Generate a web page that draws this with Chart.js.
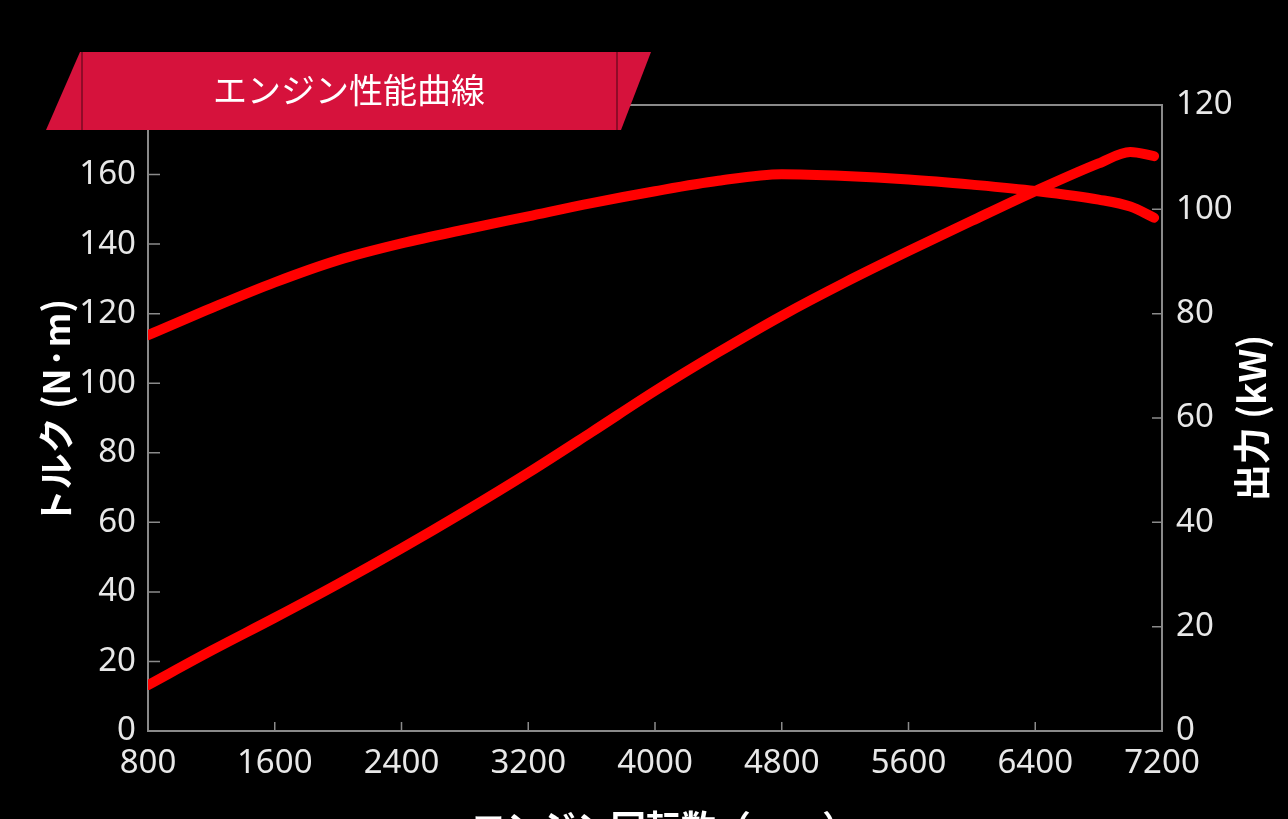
<!DOCTYPE html>
<html>
<head>
<meta charset="utf-8">
<script src="https://cdn.jsdelivr.net/npm/chart.js@4/dist/chart.umd.min.js"></script>
<style>
  html, body { margin: 0; padding: 0; background: #000; }
  #wrap { width: 1288px; height: 819px; position: relative; }
</style>
</head>
<body>
<div id="wrap"><canvas id="c" width="1288" height="819"></canvas></div>
<script>
// ---- data ----
const rpm = [800, 1200, 1600, 2000, 2400, 2800, 3200, 3600, 4000, 4400, 4800, 5200, 5600, 6000, 6400, 6800, 7000, 7150];
const torqueNm = [113.8, 121.6, 129.0, 135.4, 140.2, 144.2, 148.0, 151.8, 155.2, 158.2, 160.1, 159.6, 158.6, 157.1, 155.3, 152.8, 150.8, 147.6];
const powerKW = [8.8, 15.4, 21.7, 28.2, 35.0, 42.1, 49.5, 57.3, 65.2, 72.6, 79.6, 86.0, 92.0, 97.8, 103.5, 108.8, 111.0, 110.2];
const xTicks = [800, 1600, 2400, 3200, 4000, 4800, 5600, 6400, 7200];
const torqueTicks = [0, 20, 40, 60, 80, 100, 120, 140, 160, 180];
const powerTicks = [0, 20, 40, 60, 80, 100, 120];

const chartTitle = 'エンジン性能曲線';
const xTitle = 'エンジン回転数（rpm）';
const yLeftTitle = 'トルク (N·m)';
const yRightTitle = '出力 (kW)';

const RED = '#ff0000';
const AXIS = '#8a8a8a';
const TXT = '#e8e8e8';
const TICK_FONT = { family: "'Noto Sans', 'DejaVu Sans', sans-serif", size: 33 };
const CJK = "'Noto Sans CJK JP', 'Noto Sans', sans-serif";
const plain = v => String(v);

const torqueData = rpm.map((r, i) => ({ x: r, y: torqueNm[i] }));
const powerData = rpm.map((r, i) => ({ x: r, y: powerKW[i] }));

const decor = {
  id: 'decor',
  afterDraw(chart) {
    const ctx = chart.ctx;
    const a = chart.chartArea;
    const sx = chart.scales.x, yl = chart.scales.yL, yr = chart.scales.yR;
    ctx.save();
    // top border
    ctx.strokeStyle = AXIS;
    ctx.lineWidth = 2;
    ctx.beginPath();
    ctx.moveTo(a.left, a.top); ctx.lineTo(a.right, a.top);
    ctx.stroke();
    // tick marks (inside)
    ctx.lineWidth = 1.5;
    ctx.beginPath();
    xTicks.forEach(v => { const p = sx.getPixelForValue(v); ctx.moveTo(p, a.bottom); ctx.lineTo(p, a.bottom - 9); });
    torqueTicks.forEach(v => { const p = yl.getPixelForValue(v); ctx.moveTo(a.left, p); ctx.lineTo(a.left + 12, p); });
    powerTicks.forEach(v => { const p = yr.getPixelForValue(v); ctx.moveTo(a.right, p); ctx.lineTo(a.right - 10, p); });
    ctx.stroke();

    // axis titles
    ctx.fillStyle = '#ffffff';
    ctx.textAlign = 'center';
    ctx.textBaseline = 'middle';
    const cy = (a.top + a.bottom) / 2;
    ctx.font = 'bold 36px ' + CJK;
    ctx.save(); ctx.translate(56, cy - 6); ctx.rotate(-Math.PI / 2); ctx.fillText(yLeftTitle, 0, 0); ctx.restore();
    ctx.font = 'bold 37px ' + CJK;
    ctx.save(); ctx.translate(1252, cy); ctx.rotate(-Math.PI / 2); ctx.fillText(yRightTitle, 0, 0); ctx.restore();
    ctx.font = 'bold 35px ' + CJK;
    ctx.fillText(xTitle, 664, 828);

    // banner
    ctx.fillStyle = '#d6123c';
    ctx.beginPath();
    ctx.moveTo(80, 52); ctx.lineTo(651, 52); ctx.lineTo(621, 130); ctx.lineTo(46, 130);
    ctx.closePath(); ctx.fill();
    ctx.strokeStyle = '#7a0a22';
    ctx.lineWidth = 1.5;
    ctx.beginPath();
    ctx.moveTo(82, 52); ctx.lineTo(82, 130);
    ctx.moveTo(617, 52); ctx.lineTo(617, 130);
    ctx.stroke();
    ctx.fillStyle = '#ffffff';
    ctx.font = '34px ' + CJK;
    ctx.fillText(chartTitle, 349, 90);
    ctx.restore();
  }
};

new Chart(document.getElementById('c'), {
  type: 'line',
  data: {
    datasets: [
      { label: 'トルク', data: torqueData, yAxisID: 'yL', borderColor: RED, borderWidth: 10, pointRadius: 0, cubicInterpolationMode: 'monotone', borderCapStyle: 'round', borderJoinStyle: 'round' },
      { label: '出力', data: powerData, yAxisID: 'yR', borderColor: RED, borderWidth: 10, pointRadius: 0, cubicInterpolationMode: 'monotone', borderCapStyle: 'round', borderJoinStyle: 'round' }
    ]
  },
  options: {
    responsive: false,
    animation: false,
    layout: { padding: { top: 105, left: 0, right: 0, bottom: 0 } },
    plugins: { legend: { display: false }, tooltip: { enabled: false } },
    scales: {
      x: {
        type: 'linear', min: xTicks[0], max: xTicks[xTicks.length - 1],
        afterBuildTicks: s => { s.ticks = xTicks.map(v => ({ value: v })); },
        afterFit: s => { s.height = 88; },
        grid: { display: false, drawTicks: false },
        border: { display: true, color: AXIS, width: 2 },
        ticks: { color: TXT, font: TICK_FONT, padding: 13, maxRotation: 0, autoSkip: false, callback: plain }
      },
      yL: {
        type: 'linear', position: 'left', min: 0, max: 180,
        afterBuildTicks: s => { s.ticks = torqueTicks.map(v => ({ value: v })); },
        afterFit: s => { s.width = 148; },
        grid: { display: false, drawTicks: false },
        border: { display: true, color: AXIS, width: 2 },
        ticks: { color: TXT, font: TICK_FONT, padding: 12, callback: plain }
      },
      yR: {
        type: 'linear', position: 'right', min: 0, max: 120,
        afterBuildTicks: s => { s.ticks = powerTicks.map(v => ({ value: v })); },
        afterFit: s => { s.width = 126; },
        grid: { display: false, drawTicks: false },
        border: { display: true, color: AXIS, width: 2 },
        ticks: { color: TXT, font: TICK_FONT, padding: 14, callback: plain }
      }
    }
  },
  plugins: [decor]
});
</script>
</body>
</html>
